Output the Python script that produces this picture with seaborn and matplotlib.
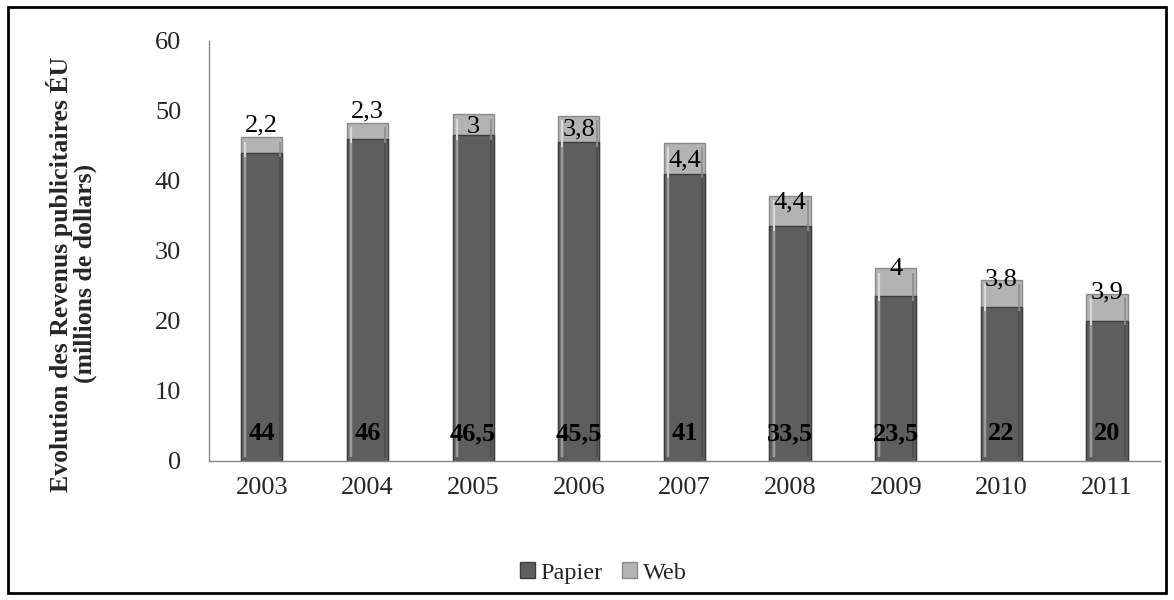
import matplotlib
matplotlib.use("Agg")
import matplotlib.pyplot as plt
import matplotlib.patches as mpatches
import seaborn as sns
import pandas as pd
import numpy as np

years = ["2003", "2004", "2005", "2006", "2007", "2008", "2009", "2010", "2011"]
papier = [44, 46, 46.5, 45.5, 41, 33.5, 23.5, 22, 20]
web = [2.2, 2.3, 3, 3.8, 4.4, 4.4, 4, 3.8, 3.9]
papier_labels = ["44", "46", "46,5", "45,5", "41", "33,5", "23,5", "22", "20"]
web_labels = ["2,2", "2,3", "3", "3,8", "4,4", "4,4", "4", "3,8", "3,9"]
yticks = [0, 10, 20, 30, 40, 50, 60]

# vertical nudge of each Web label relative to the top of its stack
web_label_shift = [1.7, 1.6, -1.8, -1.9, -2.5, -1.0, -0.1, 0.1, 0.2]

sns.set_theme(style="white")
plt.rcParams["font.family"] = ["Liberation Serif", "DejaVu Serif"]

df = pd.DataFrame({"year": years, "Papier": papier, "Web": web})
df["total"] = df["Papier"] + df["Web"]

fig = plt.figure(figsize=(11.74, 6.0), dpi=100)
ax = fig.add_axes([0.178, 0.232, 0.81, 0.70])

DARK = "#5e5e5e"
LIGHT = "#b3b3b3"
bw = 0.39

# totals first (light), then Papier drawn over them (dark) -> stacked look
sns.barplot(data=df, x="year", y="total", color=LIGHT, width=bw, ax=ax,
            edgecolor="#8a8a8a", linewidth=1.0, saturation=1)
sns.barplot(data=df, x="year", y="Papier", color=DARK, width=bw, ax=ax,
            edgecolor="#3c3c3c", linewidth=1.0, saturation=1)

# bevel highlight along the inner edges of each bar
for p in ax.patches:
    x0, y0 = p.get_x(), p.get_y()
    w, h = p.get_width(), p.get_height()
    fc = p.get_facecolor()
    hl = "#d8d8d8" if fc[0] > 0.5 else "#9a9a9a"
    ax.plot([x0 + w * 0.1, x0 + w * 0.1], [y0 + 0.6, y0 + h - 0.6],
            color=hl, lw=1.6, solid_capstyle="butt", zorder=3)
    ax.plot([x0 + w * 0.93, x0 + w * 0.93], [y0 + 0.6, y0 + h - 0.6],
            color="#444444" if fc[0] < 0.5 else "#8c8c8c", lw=1.2,
            solid_capstyle="butt", zorder=3)

# value labels
for i in range(len(years)):
    ax.text(i, 3.9, papier_labels[i], ha="center", va="center",
            fontsize=19, fontweight="bold", color="black", zorder=5)
    ax.text(i, papier[i] + web[i] + web_label_shift[i], web_labels[i],
            ha="center", va="center", fontsize=19, color="black", zorder=5)

ax.set_ylim(0, 60)
ax.set_yticks(yticks)
ax.set_yticklabels([str(v) for v in yticks], fontsize=19)
ax.set_xlim(-0.5, len(years) - 0.5)
ax.set_xticks(range(len(years)))
ax.set_xticklabels(years, fontsize=19)
ax.set_xticks(np.arange(-0.5, len(years), 1.0), minor=True)
ax.tick_params(axis="x", which="major", length=0, pad=12)
ax.tick_params(axis="x", which="minor", length=6, color="#868686", width=1, direction="out")
ax.tick_params(axis="y", which="major", length=6, color="#868686", width=1, direction="out", pad=14)
ax.set_xlabel("")
ax.set_ylabel("Evolution des Revenus publicitaires ÉU\n(millions de dollars)",
              fontsize=18.5, fontweight="bold", linespacing=1.0)
ax.yaxis.set_label_coords(-0.118, 0.445)

for s in ["top", "right"]:
    ax.spines[s].set_visible(False)
for s in ["left", "bottom"]:
    ax.spines[s].set_color("#868686")
    ax.spines[s].set_linewidth(1)

handles = [mpatches.Patch(facecolor=DARK, edgecolor="#3c3c3c", label="Papier"),
           mpatches.Patch(facecolor=LIGHT, edgecolor="#8a8a8a", label="Web")]
fig.legend(handles=handles, loc="center", bbox_to_anchor=(0.514, 0.045), ncol=2,
           frameon=False, fontsize=17.5, handlelength=0.6, handleheight=0.6,
           handletextpad=0.25, columnspacing=0.8)

# outer frame around the whole figure
fig.patches.append(mpatches.Rectangle((0.007, 0.012), 0.986, 0.976, transform=fig.transFigure,
                                      fill=False, edgecolor="black", linewidth=2))

fig.savefig("out.png", dpi=100)
